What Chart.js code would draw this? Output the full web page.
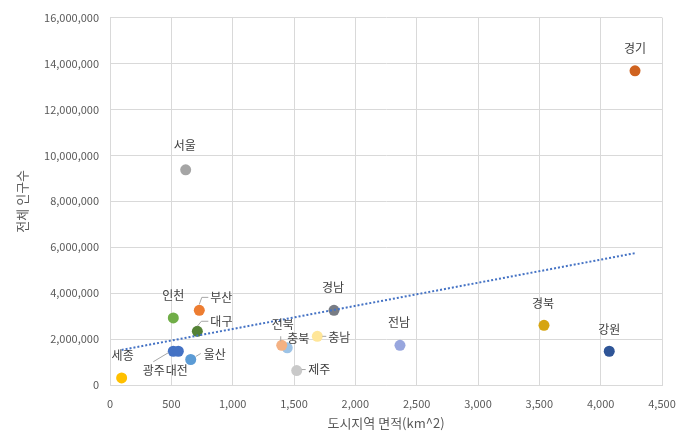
<!DOCTYPE html>
<html><head><meta charset="utf-8">
<script src="https://cdn.jsdelivr.net/npm/chart.js@4"></script>
<style>html,body{margin:0;padding:0;background:#fff}#wrap{width:689px;height:443px;position:relative}</style>
</head><body><div id="wrap"><canvas id="c" width="689" height="443"></canvas></div>
<script>
// ---- data ----
const regions    = ['서울','부산','대구','인천','광주','대전','울산','세종','경기','강원','충북','충남','전북','전남','경북','경남','제주'];
const areaKm2    = [617, 728, 712, 516, 516, 557, 658, 95, 4280, 4070, 1445, 1690, 1400, 2364, 3538, 1826, 1522];
const population = [9370000, 3250000, 2340000, 2920000, 1470000, 1470000, 1110000, 310000, 13680000, 1470000, 1620000, 2120000, 1730000, 1730000, 2600000, 3250000, 630000];
const xTickValues = [0, 500, 1000, 1500, 2000, 2500, 3000, 3500, 4000, 4500];
const yTickValues = [0, 2000000, 4000000, 6000000, 8000000, 10000000, 12000000, 14000000, 16000000];
const xTitle = '도시지역 면적(km^2)';
const yTitle = '전체 인구수';

// ---- styles ----
const pointColors = ['#A5A5A5','#ED7D31','#548235','#70AD47','#4472C4','#4472C4','#5B9BD5','#FFC000','#CF6320','#2F5597','#9DC3E6','#FFE699','#F4B183','#98A6DE','#D6A511','#787C84','#C9C9C9'];
const labelLayout = {
  '서울': {dx:-1, dy:-24},
  '경기': {dx:0,  dy:-22},
  '경남': {dx:-1, dy:-23},
  '경북': {dx:-1, dy:-22},
  '강원': {dx:0,  dy:-22},
  '전남': {dx:-1, dy:-23},
  '인천': {dx:0,  dy:-23},
  '세종': {dx:1,  dy:-22},
  '부산': {dx:11, dy:-13, align:'left', leader:[[0,-6],[2.5,-13],[9,-13]]},
  '대구': {dx:13, dy:-10, align:'left', leader:[[0,-5],[4,-10],[11,-10]]},
  '울산': {dx:13, dy:-5,  align:'left', leader:[[5,-3],[10,-6]]},
  '광주': {dx:-19.5, dy:19, leader:[[-20,10.5],[-5,1.5]]},
  '대전': {dx:-1.5, dy:19},
  '전북': {dx:1,  dy:-21, leader:[[-1,-9],[-1,-4]]},
  '충북': {dx:11, dy:-9},
  '충남': {dx:11, dy:1.5, align:'left', leader:[[5,0],[9,0]]},
  '제주': {dx:11.5, dy:-1, align:'left', leader:[[5,-1],[9,-1]]}
};
const FONT = '"Noto Sans CJK KR", "Noto Sans", sans-serif';

// linear trend (least squares) from the data
const n = areaKm2.length;
const mx = areaKm2.reduce((a,b)=>a+b,0)/n;
const my = population.reduce((a,b)=>a+b,0)/n;
let sxy=0, sxx=0;
for (let i=0;i<n;i++){ sxy += (areaKm2[i]-mx)*(population[i]-my); sxx += (areaKm2[i]-mx)**2; }
const slope = sxy/sxx, intercept = my - slope*mx;
const xmin = Math.min(...areaKm2), xmax = Math.max(...areaKm2);
const trendData = [{x:xmin, y:intercept+slope*xmin},{x:xmax, y:intercept+slope*xmax}];

const labelPlugin = {
  id:'pointLabels',
  afterDatasetsDraw(chart){
    const meta = chart.getDatasetMeta(1);
    const ctx = chart.ctx;
    ctx.save();
    ctx.font = '12px ' + FONT;
    ctx.textBaseline = 'middle';
    meta.data.forEach((el,i)=>{
      const L = labelLayout[regions[i]];
      const x = el.x, y = el.y;
      if (L.leader){
        ctx.strokeStyle = '#A6A6A6'; ctx.lineWidth = 1;
        ctx.beginPath();
        L.leader.forEach(([lx,ly],k)=> k ? ctx.lineTo(x+lx,y+ly) : ctx.moveTo(x+lx,y+ly));
        ctx.stroke();
      }
      ctx.fillStyle = '#404040';
      ctx.textAlign = L.align || 'center';
      ctx.fillText(regions[i], x+L.dx, y+L.dy);
    });
    ctx.restore();
  }
};

new Chart(document.getElementById('c'), {
  type:'scatter',
  data:{
    datasets:[
      { label:'추세선', data:trendData, showLine:true, borderColor:'#4472C4', borderWidth:2, borderDash:[2,2], pointRadius:0, fill:false },
      { label:'인구', data:areaKm2.map((x,i)=>({x, y:population[i]})), pointRadius:5.5, pointHoverRadius:5.5, backgroundColor:pointColors, borderColor:pointColors, borderWidth:0 }
    ]
  },
  options:{
    responsive:false, animation:false, devicePixelRatio:1,
    layout:{padding:{top:17, right:27, left:0, bottom:0}},
    plugins:{legend:{display:false}, tooltip:{enabled:false}},
    scales:{
      x:{
        type:'linear', min:0, max:4500,
        afterBuildTicks(s){ s.ticks = xTickValues.map(v=>({value:v})); },
        afterFit(s){ s.height = 58; },
        grid:{color:'#D9D9D9', drawTicks:false},
        border:{color:'#D9D9D9'},
        ticks:{padding:12, maxRotation:0, autoSkip:false, color:'#595959', font:{family:FONT, size:11}, callback:v=>v.toLocaleString('en-US')},
        title:{display:true, text:xTitle, color:'#595959', font:{family:FONT, size:13}, padding:{top:0,bottom:12}}
      },
      y:{
        type:'linear', min:0, max:16000000,
        afterBuildTicks(s){ s.ticks = yTickValues.map(v=>({value:v})); },
        afterFit(s){ s.width = 110; },
        grid:{color:'#D9D9D9', drawTicks:false},
        border:{color:'#D9D9D9'},
        ticks:{padding:11, color:'#595959', font:{family:FONT, size:11}, callback:v=>v.toLocaleString('en-US')},
        title:{display:true, text:yTitle, color:'#595959', font:{family:FONT, size:13}, padding:{top:14,bottom:0}}
      }
    }
  },
  plugins:[labelPlugin]
});
</script></body></html>
